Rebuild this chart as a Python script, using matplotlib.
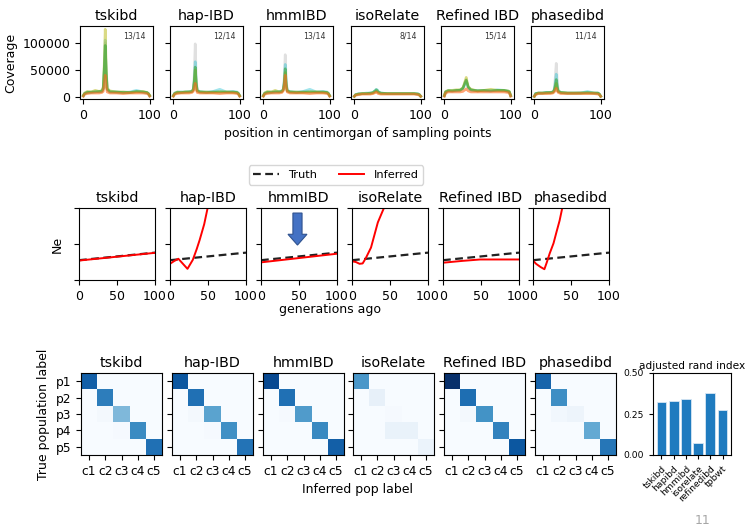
import matplotlib
matplotlib.use("Agg")
import matplotlib.pyplot as plt
import numpy as np
from matplotlib.patches import FancyArrow
from matplotlib.lines import Line2D

plt.rcParams["font.family"] = "DejaVu Sans"

W, H = 749, 529
METHODS = ["tskibd", "hap-IBD", "hmmIBD", "isoRelate", "Refined IBD", "phasedibd"]

# ---- row 1: coverage (values in thousands) ----
COV_POS = [0, 2, 6, 12, 18, 24, 28, 30, 31.5, 33, 34.5, 36, 40, 50, 60, 70, 80, 90, 96, 98, 100]
COV_FRAC = ["13/14", "12/14", "13/14", "8/14", "15/14", "11/14"]
COV_COLORS = ["#9a9a9a", "#17becf", "#bcbd22", "#2ca02c", "#ff6a1a"]
COV_ALPHA = [0.3, 0.4, 0.55, 0.55, 0.6]

COV_TSKIBD = [
    [2, 7, 8, 8, 9, 9, 10, 15, 45, 100, 40, 13, 9, 8, 9, 8, 9, 8, 7, 6, 2],
    [2, 6, 9, 8, 10, 9, 11, 16, 50, 105, 45, 14, 10, 9, 8, 9, 12, 9, 8, 6, 2],
    [3, 7, 10, 9, 12, 10, 12, 18, 60, 125, 55, 16, 11, 9, 9, 8, 9, 10, 8, 6, 3],
    [2, 6, 8, 9, 9, 10, 10, 15, 50, 95, 45, 14, 9, 9, 8, 8, 10, 9, 8, 6, 2],
    [1, 5, 6, 7, 7, 7, 8, 10, 22, 40, 20, 9, 7, 7, 6, 7, 7, 7, 6, 5, 1],
]
COV_HAPIBD = [
    [2, 7, 8, 9, 8, 9, 10, 14, 40, 98, 38, 12, 9, 8, 9, 9, 8, 9, 8, 6, 2],
    [2, 7, 9, 9, 9, 10, 10, 14, 30, 65, 28, 12, 10, 9, 10, 14, 9, 10, 9, 7, 2],
    [2, 6, 9, 8, 9, 9, 10, 13, 25, 50, 24, 11, 9, 9, 8, 9, 9, 8, 8, 6, 2],
    [2, 6, 8, 8, 9, 9, 10, 13, 28, 55, 26, 11, 9, 8, 9, 9, 9, 9, 8, 6, 2],
    [1, 5, 6, 7, 7, 7, 8, 10, 15, 25, 14, 8, 7, 7, 7, 6, 7, 7, 6, 5, 1],
]
COV_HMMIBD = [
    [2, 7, 8, 9, 8, 9, 10, 14, 35, 78, 33, 12, 9, 8, 9, 9, 8, 9, 8, 6, 2],
    [2, 7, 9, 9, 10, 10, 11, 14, 28, 60, 26, 12, 10, 9, 10, 14, 9, 10, 9, 7, 2],
    [2, 7, 10, 9, 12, 9, 10, 13, 22, 45, 20, 11, 9, 9, 8, 9, 9, 8, 8, 6, 2],
    [2, 6, 8, 8, 9, 9, 10, 13, 25, 52, 24, 11, 9, 8, 9, 9, 9, 9, 8, 6, 2],
    [1, 5, 6, 7, 7, 7, 8, 11, 20, 40, 18, 9, 7, 7, 7, 6, 7, 7, 6, 5, 1],
]
COV_ISORELATE = [
    [1, 4, 5, 6, 6, 6, 7, 8, 9, 11, 9, 8, 6, 6, 6, 6, 6, 6, 5, 4, 1],
    [1, 4, 6, 6, 7, 7, 8, 10, 12, 14, 13, 10, 7, 6, 6, 6, 6, 6, 6, 4, 1],
    [1, 4, 5, 6, 6, 6, 7, 8, 9, 10, 9, 8, 6, 6, 6, 6, 6, 6, 5, 4, 1],
    [1, 4, 5, 6, 6, 7, 8, 10, 11, 13, 12, 9, 7, 6, 6, 6, 6, 6, 5, 4, 1],
    [1, 3, 4, 5, 5, 5, 6, 7, 8, 9, 8, 6, 5, 5, 5, 5, 5, 5, 4, 3, 1],
]
COV_REFINED = [
    [2, 9, 11, 10, 12, 12, 16, 22, 28, 32, 25, 18, 13, 11, 12, 11, 12, 11, 10, 9, 2],
    [2, 9, 12, 11, 11, 13, 15, 20, 25, 28, 24, 17, 12, 12, 11, 11, 13, 12, 11, 9, 2],
    [3, 10, 12, 12, 13, 13, 17, 24, 30, 36, 27, 19, 14, 11, 12, 14, 12, 12, 11, 10, 3],
    [2, 9, 11, 11, 12, 12, 16, 22, 27, 31, 25, 18, 13, 11, 12, 11, 12, 12, 10, 9, 2],
    [1, 7, 9, 9, 9, 9, 10, 12, 13, 15, 13, 11, 9, 9, 9, 9, 9, 9, 8, 7, 1],
]
COV_PHASEDIBD = [
    [1, 6, 7, 7, 8, 8, 9, 14, 35, 62, 33, 12, 8, 7, 7, 8, 7, 7, 7, 5, 1],
    [1, 6, 7, 7, 8, 8, 9, 13, 25, 42, 23, 11, 8, 7, 7, 7, 10, 7, 7, 5, 1],
    [1, 5, 7, 7, 7, 8, 8, 11, 17, 25, 16, 10, 8, 7, 7, 7, 7, 7, 6, 5, 1],
    [1, 6, 7, 7, 8, 8, 9, 12, 20, 32, 19, 10, 8, 7, 7, 7, 8, 7, 7, 5, 1],
    [1, 4, 6, 6, 6, 6, 7, 9, 12, 16, 11, 8, 6, 6, 6, 6, 6, 6, 5, 4, 1],
]
COVERAGE = [COV_TSKIBD, COV_HAPIBD, COV_HMMIBD, COV_ISORELATE, COV_REFINED, COV_PHASEDIBD]

# ---- row 2: Ne (arbitrary units) ----
TRUTH_X = [0, 100]
TRUTH_Y = [0.55, 0.76]
NE_X = [
    [0, 100],
    [0, 5, 11, 17, 23, 30, 35, 39, 45, 50],
    [0, 100],
    [0, 5, 10, 14, 18, 25, 34, 40, 46],
    [0, 25, 49, 75, 100],
    [0, 4, 10, 15, 18, 22, 27, 31, 35, 39],
]
NE_Y = [
    [0.54, 0.755],
    [0.45, 0.52, 0.59, 0.45, 0.31, 0.56, 0.85, 1.11, 1.55, 2.05],
    [0.49, 0.73],
    [0.52, 0.50, 0.45, 0.46, 0.60, 0.90, 1.60, 1.90, 2.20],
    [0.48, 0.53, 0.57, 0.57, 0.57],
    [0.54, 0.45, 0.36, 0.30, 0.48, 0.74, 1.02, 1.34, 1.65, 2.05],
]

# ---- row 3: confusion matrices (shared Blues scale, 0..1) ----
CM_TSKIBD = [[0.82, 0, 0, 0, 0], [0, 0.70, 0, 0, 0], [0, 0.02, 0.45, 0, 0],
             [0, 0, 0.01, 0.65, 0], [0, 0, 0, 0, 0.75]]
CM_HAPIBD = [[0.85, 0, 0, 0, 0], [0, 0.75, 0, 0, 0], [0, 0.02, 0.55, 0, 0],
             [0, 0, 0.01, 0.63, 0], [0, 0, 0, 0, 0.74]]
CM_HMMIBD = [[0.90, 0, 0, 0, 0], [0, 0.75, 0, 0, 0], [0, 0.01, 0.58, 0, 0],
             [0, 0, 0, 0.66, 0], [0, 0, 0, 0, 0.82]]
CM_ISORELATE = [[0.60, 0, 0, 0, 0], [0, 0.08, 0, 0, 0], [0, 0, 0.01, 0, 0],
                [0, 0, 0.07, 0.07, 0], [0, 0, 0, 0, 0.06]]
CM_REFINED = [[1.00, 0, 0, 0, 0], [0, 0.76, 0, 0, 0], [0, 0.02, 0.62, 0, 0],
              [0, 0, 0, 0.68, 0], [0, 0, 0, 0, 0.85]]
CM_PHASEDIBD = [[0.80, 0, 0, 0, 0], [0, 0.64, 0, 0, 0], [0, 0.03, 0.05, 0, 0],
                [0, 0, 0, 0.52, 0], [0, 0, 0, 0, 0.73]]
CONFUSION = [CM_TSKIBD, CM_HAPIBD, CM_HMMIBD, CM_ISORELATE, CM_REFINED, CM_PHASEDIBD]
POP_LABELS = ["p1", "p2", "p3", "p4", "p5"]
CLUSTER_LABELS = ["c1", "c2", "c3", "c4", "c5"]

ARI_NAMES = ["tskibd", "hapibd", "hmmibd", "isorelate", "refinedibd", "tpbwt"]
ARI_VALUES = [0.322, 0.331, 0.343, 0.076, 0.378, 0.276]


def px_axes(fig, left, top, width, height):
    return fig.add_axes([left / W, 1 - (top + height) / H, width / W, height / H])


fig = plt.figure(figsize=(W / 100, H / 100), dpi=100)
fig.patch.set_facecolor("white")

# ---- row 1 ----
row1_left = [80, 170, 260, 351, 441, 531]
for i, name in enumerate(METHODS):
    ax = px_axes(fig, row1_left[i], 26, 73, 73)
    for s, series in enumerate(COVERAGE[i]):
        ax.plot(COV_POS, np.array(series) * 1000, color=COV_COLORS[s],
                alpha=COV_ALPHA[s], lw=1.9)
    ax.set_ylim(-4000, 131000)
    ax.set_xticks([0, 100])
    ax.set_yticks([0, 50000, 100000])
    ax.tick_params(labelsize=9)
    if i > 0:
        ax.set_yticklabels([])
    else:
        ax.set_ylabel("Coverage", fontsize=9)
    ax.set_title(name, fontsize=10.3, pad=4)
    ax.text(0.9, 0.86, COV_FRAC[i], transform=ax.transAxes, ha="right",
            va="center", fontsize=5.6, color="#333333")
fig.text(358 / W, 1 - 133 / H, "position in centimorgan of sampling points",
         ha="center", va="center", fontsize=9)

# ---- row 2 ----
row2_left = [79, 170, 261, 352, 443, 533]
for i, name in enumerate(METHODS):
    ax = px_axes(fig, row2_left[i], 208, 76, 72)
    ax.plot(TRUTH_X, TRUTH_Y, color="#222222", ls="--", lw=1.6, dashes=(3.5, 2))
    ax.plot(NE_X[i], NE_Y[i], color="red", lw=1.4)
    ax.set_xlim(0, 100)
    ax.set_ylim(0, 2)
    ax.set_xticks([0, 50, 100])
    ax.set_yticks([0, 1, 2])
    ax.set_yticklabels([])
    ax.tick_params(labelsize=9)
    ax.set_title(name, fontsize=10.3, pad=4)
    if i == 0:
        ax.set_ylabel("Ne", fontsize=9)
    if name == "hmmIBD":
        ax.add_patch(FancyArrow(48, 1.86, 0, -0.89, width=12, head_width=25,
                                head_length=0.3, length_includes_head=True,
                                fc="#4472C4", ec="#2F528F", lw=0.8))
fig.text(330 / W, 1 - 310 / H, "generations ago", ha="center", va="center",
         fontsize=9)
handles = [Line2D([], [], color="#222222", ls="--", lw=1.6, dashes=(3.5, 2)),
           Line2D([], [], color="red", lw=1.4)]
fig.legend(handles, ["Truth", "Inferred"], loc="center", ncol=2, fontsize=8.2,
           bbox_to_anchor=(336 / W, 1 - 175 / H), frameon=True,
           handlelength=2.2, columnspacing=2.0, borderpad=0.4)

# ---- row 3 ----
row3_left = [81, 172, 263, 353, 444, 535]
for i, name in enumerate(METHODS):
    ax = px_axes(fig, row3_left[i], 373, 81, 82)
    ax.imshow(np.array(CONFUSION[i]), cmap="Blues", vmin=0, vmax=1, aspect="auto")
    ax.set_xticks(range(5))
    ax.set_xticklabels(CLUSTER_LABELS)
    ax.set_yticks(range(5))
    ax.tick_params(labelsize=8.8)
    if i == 0:
        ax.set_yticklabels(POP_LABELS)
        ax.set_ylabel("True population label", fontsize=9)
    else:
        ax.set_yticklabels([])
    ax.set_title(name, fontsize=10.3, pad=4)
fig.text(357 / W, 1 - 490 / H, "Inferred pop label", ha="center", va="center",
         fontsize=9)

axb = px_axes(fig, 653, 373, 78, 82)
axb.bar(range(len(ARI_NAMES)), ARI_VALUES, color="#1f7bbf", edgecolor="#d6e6f4",
        lw=0.6)
axb.set_ylim(0, 0.5)
axb.set_yticks([0, 0.25, 0.5])
axb.set_yticklabels(["0.00", "0.25", "0.50"])
axb.set_xticks(range(len(ARI_NAMES)))
axb.set_xticklabels(ARI_NAMES, rotation=45, ha="right", rotation_mode="anchor")
axb.tick_params(labelsize=6.6, length=3)
axb.set_title("adjusted rand index", fontsize=7.6, pad=3)

fig.text(703 / W, 1 - 521 / H, "11", ha="center", va="center", fontsize=9,
         color="#a6a6a6")

fig.savefig("out.png", dpi=100, facecolor="white")
